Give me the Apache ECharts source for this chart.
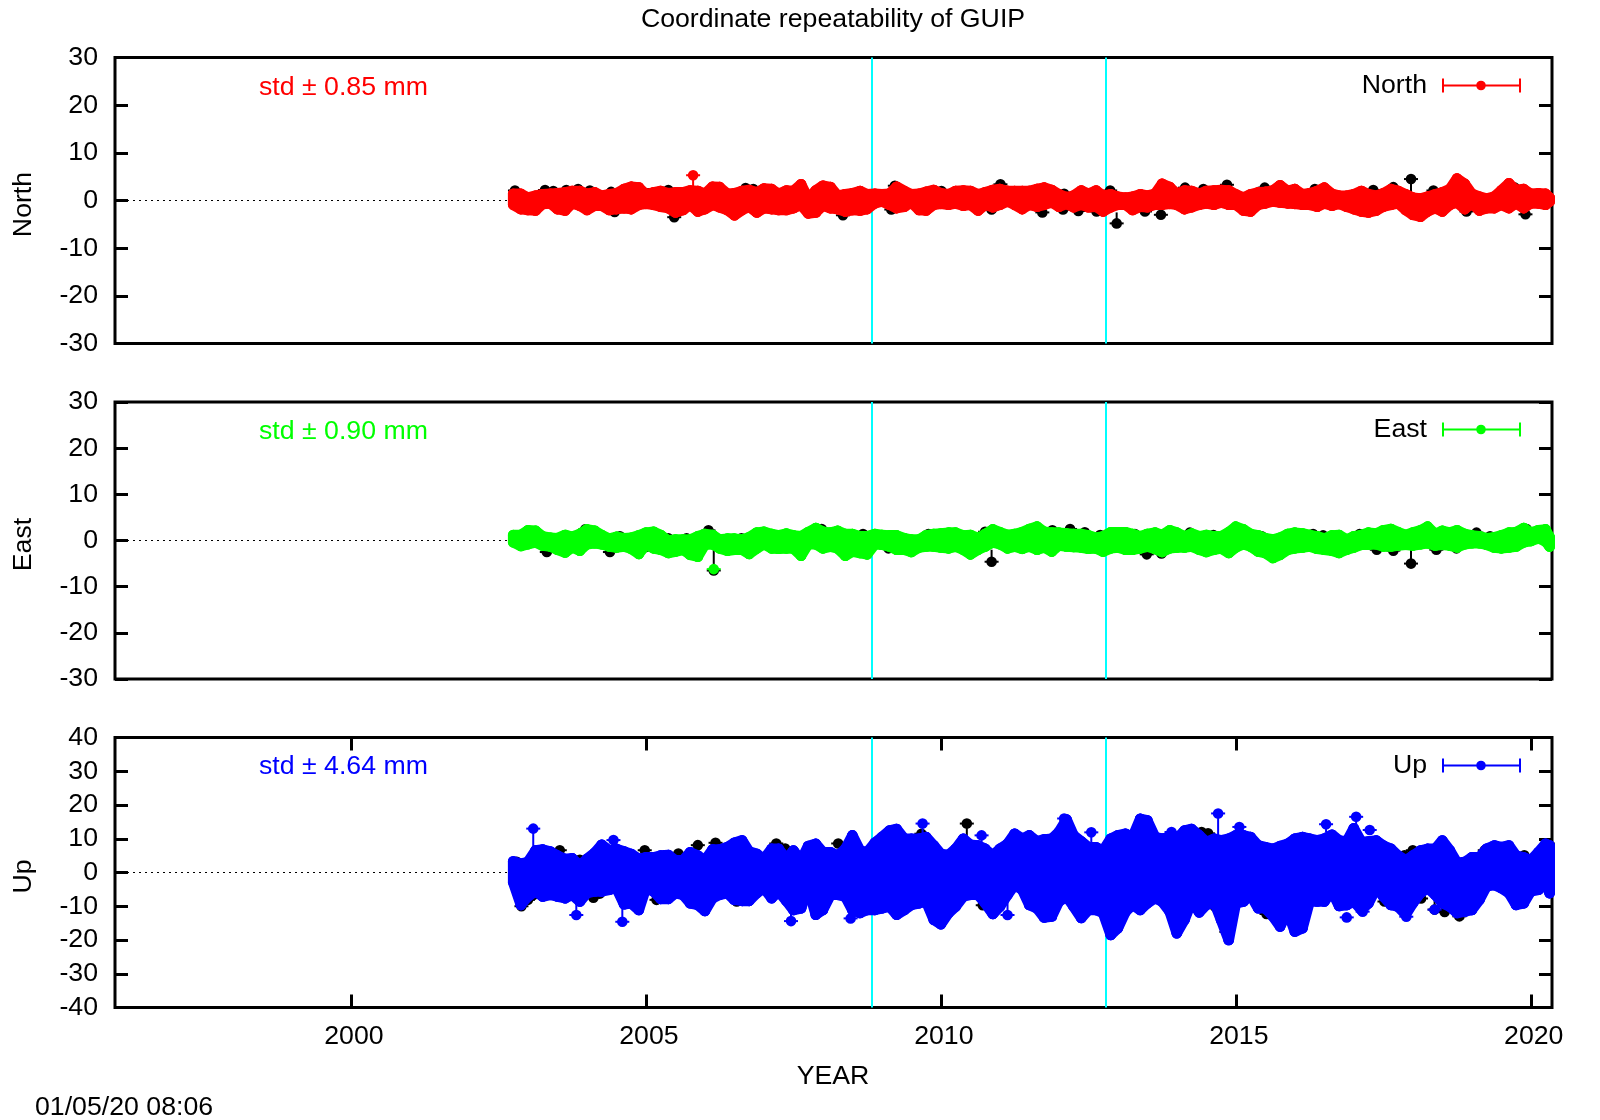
<!DOCTYPE html>
<html lang="en">
<head>
<meta charset="utf-8">
<title>Coordinate repeatability of GUIP</title>
<script src="https://cdn.jsdelivr.net/npm/echarts@6/dist/echarts.min.js"></script>
<style>
html, body { margin: 0; padding: 0; background: #fff; }
#main { width: 1600px; height: 1120px; }
</style>
</head>
<body>
<div id="main"></div>
<script>
var years = [2002.75,2002.88,
  2003.0,2003.13,2003.25,2003.38,2003.5,2003.63,2003.75,2003.88,
  2004.0,2004.13,2004.25,2004.38,2004.5,2004.63,2004.75,2004.88,
  2005.0,2005.13,2005.25,2005.38,2005.5,2005.63,2005.75,2005.88,
  2006.0,2006.13,2006.25,2006.38,2006.5,2006.63,2006.75,2006.88,
  2007.0,2007.13,2007.25,2007.38,2007.5,2007.63,2007.75,2007.88,
  2008.0,2008.13,2008.25,2008.38,2008.5,2008.63,2008.75,2008.88,
  2009.0,2009.13,2009.25,2009.38,2009.5,2009.63,2009.75,2009.88,
  2010.0,2010.13,2010.25,2010.38,2010.5,2010.63,2010.75,2010.88,
  2011.0,2011.13,2011.25,2011.38,2011.5,2011.63,2011.75,2011.88,
  2012.0,2012.13,2012.25,2012.38,2012.5,2012.63,2012.75,2012.88,
  2013.0,2013.13,2013.25,2013.38,2013.5,2013.63,2013.75,2013.88,
  2014.0,2014.13,2014.25,2014.38,2014.5,2014.63,2014.75,2014.88,
  2015.0,2015.13,2015.25,2015.38,2015.5,2015.63,2015.75,2015.88,
  2016.0,2016.13,2016.25,2016.38,2016.5,2016.63,2016.75,2016.88,
  2017.0,2017.13,2017.25,2017.38,2017.5,2017.63,2017.75,2017.88,
  2018.0,2018.13,2018.25,2018.38,2018.5,2018.63,2018.75,2018.88,
  2019.0,2019.13,2019.25,2019.38,2019.5,2019.63,2019.75,2019.88,
  2020.0,2020.13,2020.25,2020.32];

var northHi = [1.4,1.4,.6,1.0,1.3,1.4,1.5,1.7,2.0,2.0,
  1.4,1.7,1.0,1.3,1.5,2.4,2.9,2.7,1.3,1.7,
  2.0,1.5,1.7,1.7,2.1,2.0,1.4,2.9,2.8,1.4,
  1.5,2.0,2.2,1.7,2.5,2.4,1.4,2.1,2.0,3.4,
  .4,2.1,3.1,2.8,1.0,1.3,1.5,2.0,1.3,1.4,
  1.3,1.4,2.9,2.0,1.3,1.4,1.8,2.2,1.5,1.3,
  2.0,2.1,2.0,1.3,1.7,2.2,2.4,2.0,2.0,2.0,
  2.0,2.4,2.7,2.2,1.3,.7,1.0,2.1,1.4,2.1,
  1.0,1.3,.8,.6,.8,1.3,1.0,1.4,3.5,2.8,
  1.4,2.1,2.0,1.4,2.0,2.1,2.2,2.1,1.3,.6,
  1.3,1.7,1.8,2.1,3.2,2.0,2.4,1.3,1.5,2.0,
  2.7,1.4,1.0,1.0,1.3,2.0,1.3,1.0,1.5,2.4,
  2.0,1.3,.6,.4,.8,1.3,1.7,2.4,4.6,3.5,
  1.4,.8,.4,.8,2.1,3.6,2.2,2.4,1.4,1.5,
  1.4,.6];
var northLo = [-.9,-1.8,-2.0,-2.1,-.7,-.6,-1.8,-2.1,-.6,-1.1,
  -2.0,-1.1,-1.1,-2.0,-1.8,-1.6,-1.8,-.9,-.7,-.9,
  -1.3,-1.6,-2.5,-2.0,-.9,-2.3,-1.8,-.9,-1.4,-2.0,
  -3.1,-2.0,-1.3,-2.5,-1.6,-1.8,-2.0,-2.0,-1.6,-.9,
  -2.7,-2.5,-1.1,-1.6,-1.8,-2.3,-2.0,-2.1,-1.8,-.6,
  -.2,-.9,-1.6,-1.3,-.4,-2.0,-2.1,-.9,-.7,-.9,
  -.6,-1.1,-.9,-2.1,-.9,-1.4,-.9,-.2,-.9,-1.8,
  -.9,-1.3,-.9,-.4,-1.3,-.7,-1.4,-.9,-1.4,-1.3,
  -2.3,-1.4,-.9,-.9,-2.0,-1.3,-1.4,-.9,-.9,-.7,
  -.9,-1.8,-1.4,-.9,-.6,-.9,-.4,-.9,-.9,-2.1,
  -2.3,-.9,-.6,-.2,-.4,-.6,-.7,-.9,-.9,-1.3,
  -.6,-1.1,-.7,-1.3,-1.8,-2.3,-2.5,-2.1,-1.3,-.9,
  -.6,-2.0,-3.0,-3.4,-2.3,-1.6,-2.3,-.9,-.4,-1.8,
  -.6,-2.1,-1.6,-1.6,-.9,-1.6,-.6,-1.6,-.6,-.6,
  -.9,-.2];
var northOutX = [2005.8];
var northOutY = [5.3];
var northOutBase = [1.5];
// black solution shows only where it pokes out from under the coloured one
var northBlackX = [2002.78,2003.29,2003.43,2003.65,2003.85,2004.05,2004.41,2005.04,2005.38,2006.69,2006.82,2007.64,2009.22,2010.01,2011.01,
  2004.47,2005.48,2008.34,2009.16,2010.86,
  2012.09,2012.87,2014.14,2014.45,2014.85,2015.49,2016.34,2017.33,2017.67,2018.35,2019.73,
  2011.72,2012.07,2012.33,2012.64,2013.46,2013.73,2018.91,2019.91];
var northBlackY = [2.1,2.2,2.0,2.2,2.4,2.1,1.8,1.5,2.2,2.6,2.4,1.8,3.1,2.0,3.4,
  -2.4,-3.5,-3.1,-1.9,-1.9,
  1.4,2.1,2.7,2.4,3.3,2.7,2.4,2.2,2.8,2.1,2.7,
  -2.5,-1.9,-2.2,-2.3,-2.3,-3.0,-2.3,-2.9];
var northStemX = [2012.98,2017.97];
var northStemY = [-4.8,4.5];
var northStemBase = [-2.5,1.0];

var eastHi = [1.2,1.2,2.2,2.1,.9,.6,.5,1.2,.8,1.4,
  2.4,2.1,1.2,.4,.8,.5,.6,1.1,1.7,1.9,
  1.2,0,.2,.2,.2,.9,1.4,1.2,.2,.4,
  .4,.2,.7,1.7,1.9,1.4,1.1,1.5,1.1,.9,
  1.8,2.7,1.9,1.7,2.1,1.4,1.4,.9,.9,1.4,
  1.2,1.1,1.1,.5,.2,.2,1.1,1.4,1.5,1.7,
  1.7,1.1,1.2,.5,1.4,2.4,1.8,1.2,1.4,1.8,
  2.5,3.0,1.9,1.7,1.7,1.5,1.4,1.4,1.1,.6,
  .9,1.8,1.8,1.8,1.4,.9,1.4,1.7,1.2,2.2,
  1.7,.9,1.5,.9,1.2,.9,.9,1.8,3.0,2.4,
  1.4,1.1,.5,.2,.6,1.4,1.7,1.5,1.2,.9,
  .4,1.1,1.2,.2,.9,1.2,1.7,1.5,2.2,2.5,
  1.8,1.2,1.7,2.2,3.0,1.4,2.1,1.7,2.2,1.4,
  1.1,.9,.5,.7,1.1,1.7,1.8,2.7,1.7,2.2,
  2.4,.7];
var eastLo = [-.4,-1.2,-.8,-.4,-1.1,-1.3,-2.0,-2.6,-1.5,-2.2,
  -.8,-.6,-.8,-1.3,-1.5,-1.3,-1.8,-2.9,-.9,-1.7,
  -2.0,-2.7,-2.4,-2.0,-3.1,-3.5,-.9,-.8,-1.7,-2.2,
  -2.0,-2.0,-2.9,-1.7,-.8,-1.7,-1.8,-1.7,-1.7,-3.3,
  -.8,-.8,-1.7,-1.3,-1.7,-3.3,-2.4,-2.7,-3.0,-.8,
  -.9,-1.3,-2.0,-2.0,-2.5,-1.5,-1.3,-1.3,-1.5,-1.7,
  -1.3,-2.0,-3.0,-2.0,-1.3,-.4,-.8,-1.7,-1.3,-1.8,
  -1.3,-2.0,-1.5,-2.4,-1.1,-1.3,-1.4,-1.5,-1.8,-1.7,
  -2.4,-1.7,-1.5,-2.0,-2.0,-1.7,-1.3,-1.8,-2.5,-1.7,
  -1.5,-1.5,-1.3,-2.0,-2.5,-2.0,-1.7,-2.7,-1.5,-.8,
  -1.3,-2.4,-2.7,-3.8,-3.1,-2.0,-1.7,-1.5,-1.3,-1.8,
  -2.0,-2.2,-2.7,-2.0,-1.5,-.9,-.9,-.8,-1.3,-1.3,
  -1.1,-.9,-1.1,-.8,-.6,-1.1,-.9,-1.1,-1.5,-.8,
  -.6,-.6,-.9,-1.5,-1.7,-1.5,-1.3,-.4,-.1,.5,
  -.2,-1.3];
var eastOutX = [2006.15];
var eastOutY = [-6.2];
var eastOutBase = [-6.2];
var eastBlackX = [2003.97,2004.56,2005.38,2005.69,2006.06,2006.62,2007.98,2008.68,2009.79,2010.75,
  2003.32,2004.39,2005.0,2008.29,2009.11,2009.36,
  2011.89,2012.19,2012.44,2012.7,2013.29,2014.05,2014.22,2014.62,2015.44,2016.31,2016.48,2017.1,2019.08,2019.31,2019.93,
  2013.37,2013.49,2013.74,2017.39,2017.67,2018.4,2018.74];
var eastBlackY = [2.4,.9,.5,.5,2.2,.5,2.5,1.4,1.4,1.9,
  -2.5,-2.5,-1.4,-1.2,-1.7,-2.0,
  2.2,2.5,1.8,1.2,1.4,.9,1.7,1.2,.9,1.4,1.1,1.4,1.7,.9,2.5,
  -1.8,-3.0,-2.8,-2.0,-2.2,-2.0,-1.7];
var eastStemX = [2006.15,2010.86,2017.97];
var eastStemY = [-6.5,-4.6,-5.0];
var eastStemBase = [-2.0,-2.0,-2.0];

var upHi = [3.3,2.6,3.1,6.5,6.8,6.2,5.0,4.0,4.2,2.1,
  4.0,5.8,8.2,6.5,7.0,6.2,5.5,4.0,4.5,4.5,
  5.0,5.2,3.6,3.6,6.0,5.0,3.6,6.8,6.8,7.5,
  8.8,9.5,6.2,5.5,4.0,7.0,7.0,4.0,6.5,3.6,
  7.8,8.5,6.0,6.0,5.0,7.0,11,
  6.5,6.0,8.8,10.5,12.4,12.9,10,10,10,10.5,
  8.0,5.5,5.2,7.0,10,8.2,8.0,7.0,5.0,7.0,
  8.5,11.5,10,11,9.2,9.8,10,12,15.7,11,
  9.2,7.5,7.5,6.5,10,11,11.5,10.5,15.9,15.4,
  10.5,10,10.5,10,12.4,12.9,11,
  9,10,9.5,10,11,11,10.5,8,7.5,7,
  7.8,8.5,10,10.5,10,9.5,10,11.2,9.5,9.2,
  13.1,9,9.2,9.5,8,7,5,3.6,5,6.5,
  7,7,9.5,6.5,2.9,3.1,4.5,4.5,7,8,
  7.5,8,5,4.5,3.6,6,8.5,8];
var upLo = [-2.9,-9.6,-7.1,-5.6,-7.1,-6.6,-7.1,-7.6,-6.6,-8.6,
  -6.1,-5.6,-5.6,-5.1,-4.6,-9.4,-9.1,-11.1,-4.6,-5.6,
  -7.8,-7.8,-6.1,-6.6,-9.1,-9.6,-11.4,-7.6,-6.6,-6.1,
  -8.1,-8.4,-8.4,-6.1,-4.6,-7.6,-5.6,-8.4,-11.1,-10.6,
  -4.6,-12.5,-11.1,-6.6,-6.6,-7.1,-11.1,
  -12,-11.1,-11.1,-10.6,-10.1,-12.5,-11.1,-9.6,-9.1,-8.6,
  -14,-15.3,-12,-10.1,-7.1,-6.6,-6.6,-9.1,-12.3,-10.1,
  -6.6,-3.7,-5.1,-9.6,-10.6,-13.3,-13,-8.6,-7.1,-10.1,
  -13.5,-11.1,-11.1,-12,-18.5,-16.5,-11.6,-9.6,-11.1,-9.1,
  -7.6,-8.6,-11.6,-18,-14,-8.6,-11.8,
  -9.6,-8.6,-14,-20,-9.1,-8.6,-6.6,-10.6,-10.6,-13,
  -16,-11.6,-17.5,-16.5,-8.6,-8.6,-8.6,-5.6,-9.9,-9.6,
  -8.6,-11.1,-9.1,-4.6,-7.1,-9.6,-10.1,-12.5,-9.1,-6.1,
  -4.6,-6.6,-9.1,-10.1,-12,-11.6,-11.1,-8.1,-4.1,-3.7,
  -4.6,-6.1,-9.6,-9.1,-5.6,-5.1,-3.2,-6.1];
var upOutX = [2003.09,2004.45,2003.82,2004.6,2007.46,2008.47,2009.69,2010.69,2012.55,2012.09,2013.91,2011.13,2014.7,2015.06,2017.04,2016.53,2017.27,2016.88,2017.15,2017.89,2018.37];
var upOutY = [13,9.6,-12.6,-14.6,-14.4,-13.6,14.5,11,11.9,16,12,-12.6,17.5,13.5,16.5,14.3,12.6,-13.3,-11.6,-13.1,-11];
var upOutBase = [5,9.6,-8,-10,-11,-13.6,8,7,7.5,10,12,-8,11,13.5,12,12,12.6,-13.3,-11.6,-13.1,-11];
var upBlackX = [2002.81,2003.54,2003.88,2004.98,2005.55,2005.88,2006.18,2006.62,2007.21,2007.36,2008.26,
  2002.89,2003.0,2003.09,2003.2,2004.11,2004.22,2005.18,2006.54,2006.99,2007.75,
  2008.63,2009.67,2010.71,2012.1,2012.8,2014.42,
  2014.53,2016.9,2017.86,2018.0,2018.54,2019.22,2019.89,2020.29,
  2014.58,2014.64,2014.84,2014.84,2015.29,2015.52,2015.91,2017.52,2018.14,2018.54,2018.79,2019.05];
var upBlackY = [3.2,6.6,3.8,6.6,5.6,8.1,8.8,8.6,8.6,7.1,8.6,
  -10,-8.1,-6.7,-4,-7.5,-6.2,-8.1,-8.6,-5,-5.4,
  4.6,11.5,-9.7,-7.7,6.6,12,
  11.6,9.8,5.1,6.6,6.6,6.6,5.1,8.6,
  -7.7,-10,-15,-17.6,-5.7,-12.3,-12.1,-8.6,-7.7,-11.7,-13,-7.7];
var upStemX = [2010.44,2018.37];
var upStemY = [14.5,-11];
var upStemBase = [10,-6];

var eventYears = [2008.82,2012.79];
var xTicks = [2000,2005,2010,2015,2020];

var FONT = '"Liberation Sans", Arial, sans-serif';
var FONT_SIZE = 26.7;
var LEGEND_ICON = 'path://M0,0h2v14h-2z M77,0h2v14h-2z M0,6h79v2h-79z M39,7m-4.8,0a4.8,4.8 0 1,1 9.6,0a4.8,4.8 0 1,1 -9.6,0z';

var panels = [
  {name:'North', color:'#ff0000', std:'std \u00b1 0.85 mm', top:57.5, height:286, min:-30, max:30, hi:northHi, lo:northLo,
   outX:northOutX, outY:northOutY, outBase:northOutBase, blackX:northBlackX, blackY:northBlackY,
   stemX:northStemX, stemY:northStemY, stemBase:northStemBase, stdY:88, legendY:72},
  {name:'East', color:'#00ff00', std:'std \u00b1 0.90 mm', top:402, height:277, min:-30, max:30, hi:eastHi, lo:eastLo,
   outX:eastOutX, outY:eastOutY, outBase:eastOutBase, blackX:eastBlackX, blackY:eastBlackY,
   stemX:eastStemX, stemY:eastStemY, stemBase:eastStemBase, stdY:432, legendY:416},
  {name:'Up', color:'#0000ff', std:'std \u00b1 4.64 mm', top:737.5, height:270, min:-40, max:40, hi:upHi, lo:upLo,
   outX:upOutX, outY:upOutY, outBase:upOutBase, blackX:upBlackX, blackY:upBlackY,
   stemX:upStemX, stemY:upStemY, stemBase:upStemBase, stdY:767, legendY:752}
];

// band from this sample to the next one, stroked and capped with the dot size
function bandItem(color) {
  return function (params, api) {
    var x = api.value(0), nx = api.value(3);
    var a = api.coord([x, api.value(1)]), b = api.coord([x, api.value(2)]);
    var c = api.coord([nx, api.value(5)]), d = api.coord([nx, api.value(4)]);
    return {type:'group', children:[
      {type:'polygon', shape:{points:[a, d, c, b]}, style:{fill:color, stroke:color, lineWidth:10.6, lineJoin:'round'}},
      {type:'circle', shape:{cx:a[0], cy:a[1], r:5.3}, style:{fill:color}},
      {type:'circle', shape:{cx:b[0], cy:b[1], r:5.3}, style:{fill:color}}
    ]};
  };
}

// a single point with its error bar
function pointItem(color) {
  return function (params, api) {
    var p = api.coord([api.value(0), api.value(1)]);
    var b = api.coord([api.value(0), api.value(2)]);
    return {type:'group', children:[
      {type:'line', shape:{x1:p[0], y1:p[1], x2:b[0], y2:b[1]}, style:{stroke:color, lineWidth:2, fill:null}},
      {type:'line', shape:{x1:p[0]-7, y1:p[1], x2:p[0]+7, y2:p[1]}, style:{stroke:color, lineWidth:2, fill:null}},
      {type:'circle', shape:{cx:p[0], cy:p[1], r:5.3}, style:{fill:color}}
    ]};
  };
}

function textTitle(text, left, top, color, align) {
  return {text:text, left:left, top:top, padding:0, textAlign:align, textVerticalAlign:'middle',
    textStyle:{fontFamily:FONT, fontSize:FONT_SIZE, fontWeight:'normal', color:color}};
}

var option = {animation:false, backgroundColor:'#fff', textStyle:{fontFamily:FONT},
  grid:[], xAxis:[], yAxis:[], series:[], legend:[], title:[
    textTitle('Coordinate repeatability of GUIP', 833, 20, '#000', 'center'),
    textTitle('YEAR', 833, 1077, '#000', 'center'),
    textTitle('01/05/20 08:06', 35, 1108, '#000', 'left')
  ]};

panels.forEach(function (p, i) {
  var isLast = i === panels.length - 1;
  var tickStyle = {show:true, inside:true, length:13, lineStyle:{color:'#000', width:3}};

  option.grid.push({left:115, right:48, top:p.top, height:p.height, show:true,
    borderColor:'#000', borderWidth:3, backgroundColor:'#fff'});

  option.xAxis.push({type:'value', gridIndex:i, position:'bottom', min:1996, max:2020.36,
    axisLine:{show:false, onZero:false}, splitLine:{show:false},
    axisTick: isLast ? Object.assign({customValues:xTicks}, tickStyle) : {show:false},
    axisLabel: isLast ? {show:true, customValues:xTicks, margin:16, fontSize:FONT_SIZE, color:'#000', fontFamily:FONT,
      padding:[0,0,0,6], formatter:function (v) { return String(v); }} : {show:false}});
  option.xAxis.push({type:'value', gridIndex:i, position:'top', min:1996, max:2020.36,
    axisLine:{show:false, onZero:false}, splitLine:{show:false},
    axisTick: isLast ? Object.assign({customValues:xTicks}, tickStyle) : {show:false},
    axisLabel:{show:false}});

  option.yAxis.push({type:'value', gridIndex:i, position:'left', min:p.min, max:p.max, interval:10,
    name:p.name, nameLocation:'middle', nameGap:78, nameRotate:90,
    nameTextStyle:{fontFamily:FONT, fontSize:FONT_SIZE, color:'#000', padding:[0,8,0,0]},
    axisLine:{show:false, onZero:false}, splitLine:{show:false}, axisTick:tickStyle,
    axisLabel:{margin:17, fontSize:FONT_SIZE, color:'#000', fontFamily:FONT, padding:[5,0,0,0]}});
  option.yAxis.push({type:'value', gridIndex:i, position:'right', min:p.min, max:p.max, interval:10,
    axisLine:{show:false, onZero:false}, splitLine:{show:false}, axisTick:tickStyle, axisLabel:{show:false}});

  option.title.push(textTitle(p.std, 259, p.stdY, p.color, 'left'));

  option.legend.push({data:[p.name], right:79, top:p.legendY, padding:0, align:'right', icon:LEGEND_ICON,
    itemWidth:79, itemHeight:14, selectedMode:false,
    textStyle:{fontFamily:FONT, fontSize:FONT_SIZE, color:'#000', padding:[0,10,0,0]}});

  var xIdx = i * 2, yIdx = i * 2;

  // zero line and the two cyan epoch markers sit under the data
  option.series.push({type:'line', xAxisIndex:xIdx, yAxisIndex:yIdx, data:[], z:1, silent:true,
    markLine:{silent:true, z:1, symbol:'none', label:{show:false}, animation:false,
      data:[{yAxis:0, lineStyle:{color:'#000', width:1.2, type:[2,4]}}].concat(
        eventYears.map(function (y) { return {xAxis:y, lineStyle:{color:'#00ffff', width:2, type:'solid'}}; }))}});

  // black solution
  option.series.push({type:'custom', name:p.name + ' black', xAxisIndex:xIdx, yAxisIndex:yIdx, z:2, silent:true,
    itemStyle:{color:'#000'}, renderItem:pointItem('#000'), encode:{x:0, y:[1,2]},
    data:p.blackX.map(function (x, j) { return [x, p.blackY[j], p.blackY[j]]; })
      .concat(p.stemX.map(function (x, j) { return [x, p.stemY[j], p.stemBase[j]]; }))});

  // coloured solution
  option.series.push({type:'custom', name:p.name, xAxisIndex:xIdx, yAxisIndex:yIdx, z:3, silent:true,
    itemStyle:{color:p.color}, renderItem:bandItem(p.color), encode:{x:0, y:[1,2]},
    data:years.map(function (x, j) {
      var n = Math.min(j + 1, years.length - 1);
      return [x, p.hi[j], p.lo[j], years[n], p.hi[n], p.lo[n]];
    })});
  option.series.push({type:'custom', name:p.name, xAxisIndex:xIdx, yAxisIndex:yIdx, z:4, silent:true,
    itemStyle:{color:p.color}, renderItem:pointItem(p.color), encode:{x:0, y:[1,2]},
    data:p.outX.map(function (x, j) { return [x, p.outY[j], p.outBase[j]]; })});
});

var chart = echarts.init(document.getElementById('main'), null, {renderer:'canvas'});
chart.setOption(option);
</script>
</body>
</html>
